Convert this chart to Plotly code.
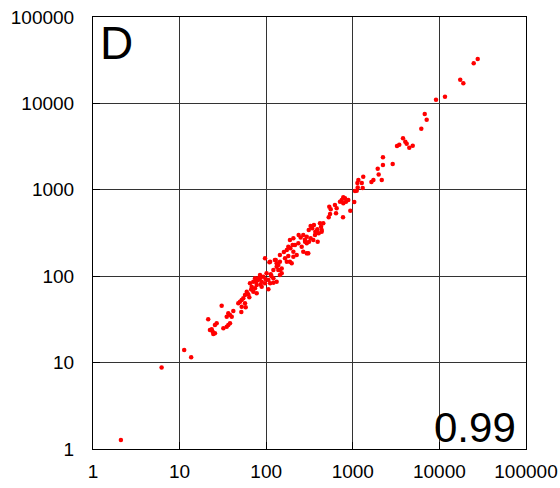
import plotly.graph_objects as go

# Data values (log-log scatter)
x_vals = [2.1, 6.2, 11.3, 13.6, 21.4, 30.6,
          26.8, 25.6, 23.5, 22.4, 24.1, 25.6, 24.5,
          38.2, 36.5, 35.0, 32.0, 36.5, 38.2, 35.0, 40.0, 41.7, 51.6,
          47.6, 49.8, 52.1, 54.4, 56.9, 59.6, 63.8, 56.9, 52.1, 58.0,
          65.0, 68.0, 74.3, 71.0, 77.7, 71.0, 77.7, 76.3, 81.1, 84.8, 92.6, 101,
          88.7, 96.9, 111, 121, 132, 138, 106, 96.9, 109, 129, 138, 88.7, 84.8, 74.3,
          106, 121, 113,
          132, 144, 151, 121, 144, 126, 132, 144, 165, 180, 206, 188, 197, 111,
          202, 180, 173, 206, 257, 268, 306, 206, 188, 235, 281, 312, 393,
          237, 268, 294, 326, 310, 418, 430, 389, 356, 326, 369, 437, 404,
          535, 556, 622, 651, 640, 527, 546, 771, 936, 777, 834, 745, 887, 1040, 813, 777,
          1110, 1060, 1140, 1300, 1130, 1270, 1160, 1320, 1730, 1640, 2160, 1990, 1940,
          2230, 2890, 2230, 3240, 3440, 3800, 4040, 4190, 4920, 4490, 6180, 6770, 7130,
          9140, 11600, 17400, 18900, 24900, 27700, 711,
          151, 144, 173, 225, 294, 350, 366, 437, 456, 294, 215,
          62, 67, 80, 86, 99, 115, 160, 190, 250, 280, 340, 380]
y_vals = [1.27, 8.8, 14.0, 11.5, 31.7, 45.6,
          28.5, 27.2, 24.3, 23.8, 22.8, 21.8, 21.4,
          28.5, 27.2, 26.0, 24.9, 37.2, 35.6, 34.0, 34.0, 39.6, 38.5,
          48.6, 50.7, 53.0, 55.5, 60.6, 66.2, 57.0, 48.6, 44.4, 43.6,
          82.7, 75.5, 72.4, 66.2, 63.4, 86.3, 79.1, 86.3, 94.6, 103, 98.7, 108,
          86.3, 82.7, 82.7, 94.6, 86.3, 118, 70.5, 161, 145, 154, 135, 75.5, 94.6, 94.6,
          90.4, 84.1, 105,
          129, 118, 123, 118, 176, 154, 141, 147, 161, 171, 168, 147, 141, 147,
          230, 219, 201, 192, 219, 192, 184, 275, 262, 240, 251, 251, 251,
          300, 300, 287, 275, 343, 410, 374, 349, 391, 381, 327, 327, 314,
          637, 594, 667, 611, 535, 481, 525, 481, 573, 819, 728, 762, 762, 722, 797, 698,
          977, 968, 1060, 1050, 1200, 1200, 1300, 1420, 1300, 1230, 1300, 1500, 1750,
          1940, 1990, 2380, 3210, 3330, 3950, 3610, 3420, 3240, 3070, 5100, 7540, 6470,
          11000, 11900, 18800, 17100, 29100, 32700, 728,
          108, 103, 147, 176, 240, 262, 300, 343, 410, 184, 230,
          62, 70, 90, 80, 92, 100, 190, 210, 280, 265, 360, 330]

tick_vals = [1, 10, 100, 1000, 10000, 100000]
tick_text = ["1", "10", "100", "1000", "10000", "100000"]
panel_label = "D"
corr_label = "0.99"

FONT = "Liberation Sans, Arial, sans-serif"

fig = go.Figure()
fig.add_trace(go.Scatter(
    x=x_vals, y=y_vals, mode="markers",
    marker=dict(color="#ff0000", size=4.5, symbol="circle", line=dict(width=0)),
    showlegend=False, hoverinfo="skip"))

axis_common = dict(
    type="log", range=[0, 5], automargin=False,
    tickvals=tick_vals, ticktext=tick_text,
    showgrid=True, gridcolor="#333333", gridwidth=1,
    showline=True, linecolor="#000000", linewidth=1, mirror=True,
    ticks="inside", ticklen=7, tickcolor="#000000", tickwidth=1,
    zeroline=False,
    tickfont=dict(family=FONT, size=19, color="#000000"),
)

fig.update_layout(
    width=560, height=488,
    margin=dict(l=93, r=34, t=17, b=39),
    paper_bgcolor="white", plot_bgcolor="white",
    xaxis=dict(**axis_common, ticklabelstandoff=5),
    yaxis=dict(**axis_common, ticklabelstandoff=14),
    annotations=[
        dict(text=panel_label, xref="paper", yref="paper", x=0.012, y=1.005,
             xanchor="left", yanchor="top", showarrow=False,
             font=dict(family=FONT, size=46, color="#000000")),
        dict(text=corr_label, xref="paper", yref="paper", x=0.982, y=-0.01,
             xanchor="right", yanchor="bottom", showarrow=False,
             font=dict(family=FONT, size=42, color="#000000")),
    ],
)

fig.write_html("out.html")
